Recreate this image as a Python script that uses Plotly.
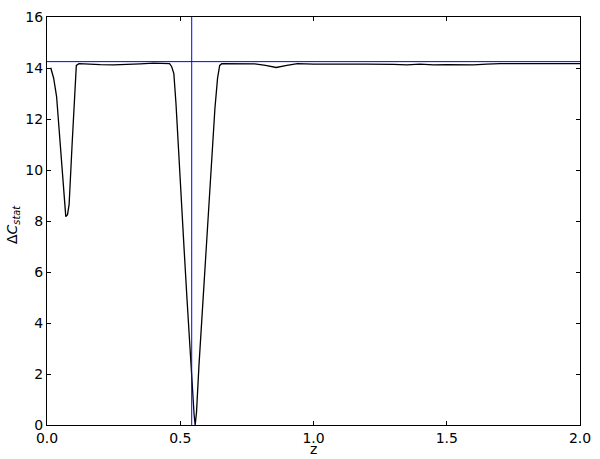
import plotly.graph_objects as go

# Data
z = [0.014, 0.025, 0.036, 0.045, 0.0545, 0.063, 0.0705, 0.077, 0.083, 0.094, 0.104, 0.110, 0.12,
     0.15, 0.2, 0.25, 0.3, 0.35, 0.4, 0.44, 0.46, 0.468, 0.476, 0.484, 0.494, 0.505, 0.515,
     0.525, 0.535, 0.545, 0.552, 0.556, 0.561, 0.57, 0.58, 0.59, 0.60, 0.61, 0.62, 0.63,
     0.64, 0.648, 0.656, 0.67, 0.72, 0.78, 0.82, 0.86, 0.9, 0.94, 1.0, 1.1, 1.2, 1.3, 1.35,
     1.4, 1.45, 1.5, 1.55, 1.6, 1.65, 1.7, 1.8, 1.9, 2.0]
dc_stat = [14.01, 13.6, 12.88, 11.6, 10.32, 9.0, 8.17, 8.25, 8.65, 10.96, 13.27, 14.1, 14.17,
           14.15, 14.13, 14.12, 14.13, 14.16, 14.19, 14.19, 14.17, 14.05, 13.78, 12.6, 10.58, 8.6, 6.8,
           5.0, 3.2, 1.4, 0.4, 0.0, 0.5, 2.3, 4.0, 5.7, 7.5, 9.2, 10.9, 12.4,
           13.6, 14.1, 14.17, 14.17, 14.18, 14.16, 14.1, 14.02, 14.1, 14.17, 14.15, 14.16, 14.15, 14.14, 14.12,
           14.15, 14.12, 14.13, 14.12, 14.12, 14.15, 14.17, 14.17, 14.16, 14.17]

hline_y = 14.25
vline_x = 0.543

x_ticks = [0.0, 0.5, 1.0, 1.5, 2.0]
x_tick_labels = ["0.0", "0.5", "1.0", "1.5", "2.0"]
y_ticks = [0, 2, 4, 6, 8, 10, 12, 14, 16]
y_tick_labels = ["0", "2", "4", "6", "8", "10", "12", "14", "16"]

x_range = [0, 2]
y_range = [0, 16]

fig = go.Figure()
fig.add_trace(go.Scatter(x=z, y=dc_stat, mode="lines",
                         line=dict(color="black", width=1.3), showlegend=False))
fig.add_trace(go.Scatter(x=x_range, y=[hline_y, hline_y], mode="lines",
                         line=dict(color="#0000ff", width=1), showlegend=False))
fig.add_trace(go.Scatter(x=[vline_x, vline_x], y=y_range, mode="lines",
                         line=dict(color="#0000ff", width=1), showlegend=False))

font = dict(family="DejaVu Sans", size=14, color="black")
axis_common = dict(showgrid=False, zeroline=False, showline=True, linecolor="black",
                   linewidth=1, mirror="ticks", ticks="inside", ticklen=4,
                   tickcolor="black", tickfont=font)

fig.update_xaxes(range=x_range, tickvals=x_ticks, ticktext=x_tick_labels, **axis_common)
fig.update_yaxes(range=y_range, tickvals=y_ticks, ticktext=y_tick_labels, **axis_common)

fig.add_annotation(text="z", xref="paper", yref="paper", x=0.5, y=0,
                   xanchor="center", yanchor="middle", yshift=-24, showarrow=False,
                   font=font)
fig.add_annotation(text="Δ<i>C</i><sub><i>stat</i></sub>", xref="paper", yref="paper",
                   x=0, y=0.5, xanchor="center", yanchor="middle", xshift=-34, yshift=-4,
                   textangle=-90, showarrow=False, font=font)

fig.update_layout(width=600, height=459, margin=dict(l=47, r=14, t=9, b=34),
                  plot_bgcolor="white", paper_bgcolor="white", font=font)

fig.write_html("out.html", config={"displayModeBar": False},
               post_script="document.body.style.margin='0';document.body.style.overflow='hidden';")
